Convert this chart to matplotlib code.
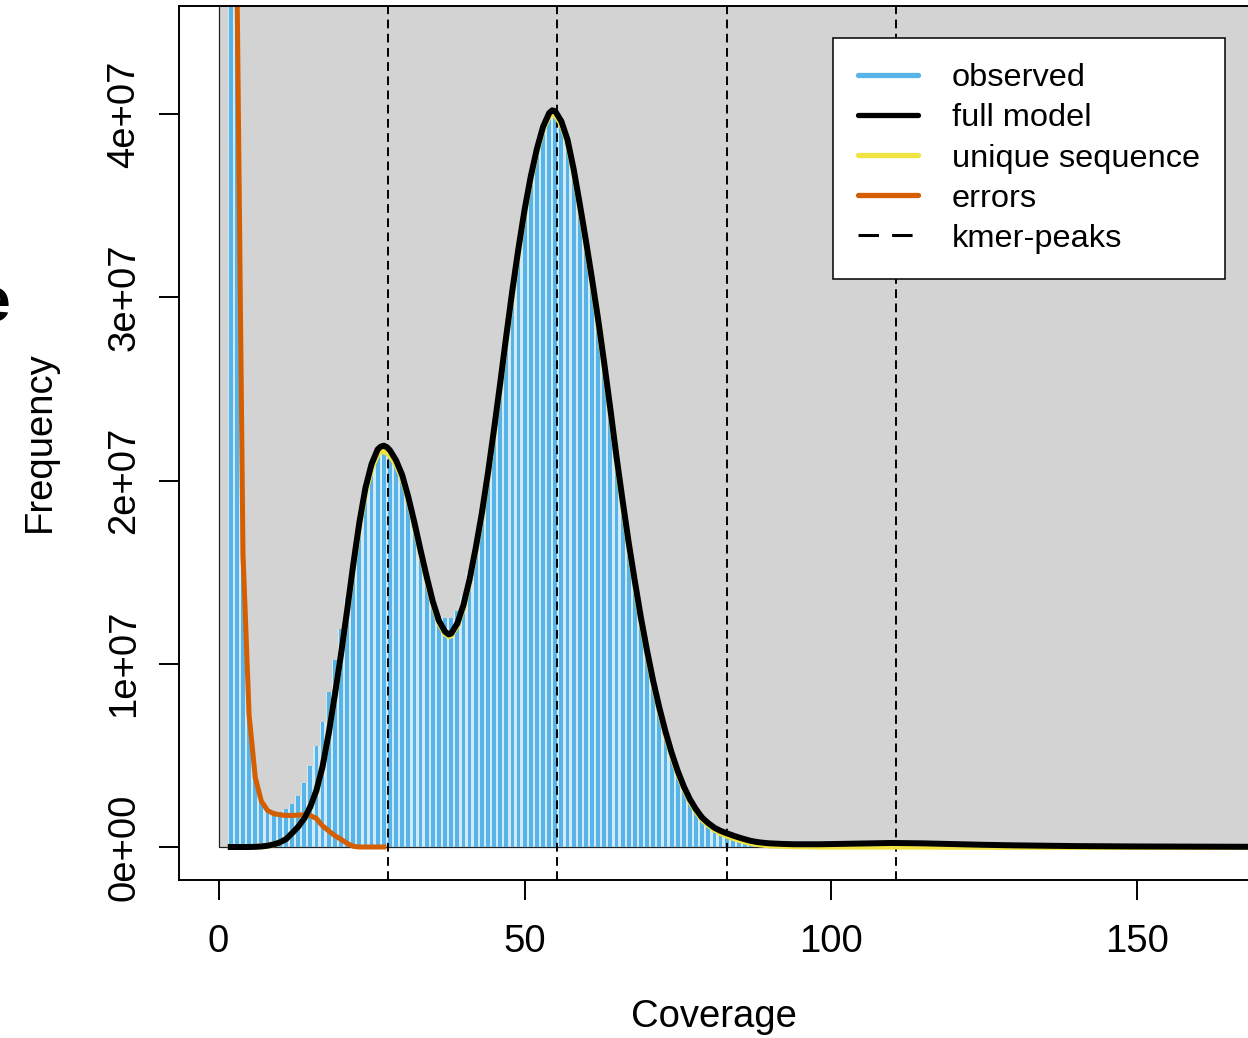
import matplotlib
matplotlib.use('Agg')
import matplotlib.pyplot as plt
from matplotlib.patches import Rectangle
from matplotlib.lines import Line2D

plt.rcParams['font.family'] = ['Liberation Sans', 'DejaVu Sans']

# ---------------- data (frequencies in millions) ----------------
obs_cov = list(range(2, 122))
obs_freq = [
    120, 48, 15.5, 7.3, 3.7, 2.6, 2.15, 1.95, 1.93, 2.05,
    2.33, 2.8, 3.47, 4.4, 5.5, 6.8, 8.45, 10.2, 11.9, 13.6,
    15.7, 17.7, 19.4, 20.7, 21.4, 21.6, 21.4, 20.8, 19.9, 18.7,
    17.4, 16.0, 14.6, 13.4, 12.6, 12.5, 12.5, 12.9, 13.7, 15.0,
    16.6, 18.3, 20.3, 22.7, 25.1, 27.7, 30.2, 32.5, 34.6, 36.4,
    37.9, 39.1, 39.8, 39.8, 39.3, 38.3, 36.7, 34.9, 32.9, 30.8,
    28.6, 26.2, 23.7, 21.1, 18.7, 16.4, 14.3, 12.3, 10.5, 8.9,
    7.4, 6.1, 5.0, 4.0, 3.15, 2.45, 1.9, 1.45, 1.12, 0.87,
    0.67, 0.52, 0.4, 0.3, 0.22, 0.17, 0.13, 0.1, 0.08, 0.07,
    0.07, 0.06, 0.06, 0.06, 0.06, 0.06, 0.06, 0.06, 0.06, 0.07,
    0.07, 0.07, 0.07, 0.08, 0.08, 0.08, 0.08, 0.08, 0.08, 0.08,
    0.08, 0.08, 0.07, 0.07, 0.07, 0.06, 0.06, 0.06, 0.05, 0.05,
]

model_cov = ([2, 3, 4, 5, 6, 7, 8, 9, 10, 11, 12, 13, 14, 15, 16, 17, 18, 19,
              20, 21, 22, 23, 24, 25, 26, 26.5, 27, 27.5, 28, 29, 30, 31, 32,
              33, 34, 35, 36, 37, 37.6, 38, 39, 40, 41, 42, 43, 44, 45, 46,
              47, 48, 49, 50, 51, 52, 53, 54, 54.5, 55, 56, 57, 58, 59, 60,
              61, 62, 63, 64, 65, 66, 67, 68, 69, 70, 71, 72, 73, 74, 75, 76,
              77, 78, 79, 80, 81, 82, 83, 84, 85, 86, 87, 88, 89, 90]
             + [92, 94, 96, 98, 100, 105, 110, 115, 120, 125, 130, 140, 150,
                160, 170])
full_model = [
    0.0, 0.0, 0.0, 0.0, 0.01, 0.03, 0.07, 0.14, 0.25, 0.42,
    0.75, 1.1, 1.55, 2.2, 3.1, 4.4, 6.2, 8.3, 10.5, 12.9,
    15.4, 17.7, 19.6, 20.9, 21.7, 21.85, 21.9, 21.82, 21.65, 21.1,
    20.3, 19.1, 17.7, 16.2, 14.75, 13.4, 12.35, 11.75, 11.6, 11.65,
    12.2, 13.2, 14.6, 16.3, 18.2, 20.4, 22.8, 25.3, 27.9, 30.4,
    32.7, 34.8, 36.6, 38.1, 39.3, 40.05, 40.2, 40.15, 39.6, 38.6,
    37.0, 35.1, 33.1, 31.0, 28.8, 26.4, 23.9, 21.3, 18.9, 16.6,
    14.5, 12.5, 10.7, 9.05, 7.6, 6.3, 5.15, 4.15, 3.3, 2.6,
    2.05, 1.6, 1.3, 1.05, 0.88, 0.75, 0.63, 0.52, 0.42, 0.33,
    0.27, 0.23, 0.2,
    0.17, 0.15, 0.15, 0.15, 0.16, 0.19, 0.22, 0.2, 0.16, 0.12, 0.09,
    0.05, 0.03, 0.02, 0.01,
]
unique_seq = [
    0.0, 0.0, 0.0, 0.0, 0.01, 0.03, 0.07, 0.14, 0.25, 0.42,
    0.75, 1.1, 1.55, 2.2, 3.1, 4.4, 6.2, 8.3, 10.5, 12.85,
    15.3, 17.55, 19.4, 20.7, 21.45, 21.58, 21.6, 21.52, 21.38, 20.9,
    20.15, 19.0, 17.6, 16.1, 14.65, 13.3, 12.25, 11.65, 11.5, 11.55,
    12.1, 13.1, 14.5, 16.2, 18.1, 20.3, 22.7, 25.2, 27.8, 30.3,
    32.6, 34.7, 36.5, 38.0, 39.2, 39.9, 40.0, 39.95, 39.45, 38.5,
    36.9, 35.0, 33.0, 30.9, 28.7, 26.3, 23.8, 21.2, 18.8, 16.5,
    14.4, 12.4, 10.6, 8.95, 7.5, 6.2, 5.05, 4.05, 3.2, 2.5,
    1.95, 1.5, 1.2, 0.95, 0.76, 0.62, 0.5, 0.39, 0.3, 0.22,
    0.16, 0.12, 0.09,
    0.06, 0.04, 0.03, 0.02, 0.02, 0.02, 0.02, 0.02, 0.01, 0.01, 0.0,
    0.0, 0.0, 0.0, 0.0,
]

err_cov = list(range(2, 28))
errors = [
    140, 48, 16, 7.2, 3.8, 2.5, 2.0, 1.82, 1.76, 1.72,
    1.72, 1.74, 1.76, 1.72, 1.55, 1.15, 0.88, 0.62, 0.42, 0.2,
    0.04, 0.0, 0.0, 0.0, 0.0, 0.0,
]

kmer_peaks = [27.67, 55.33, 83.0, 110.67]

y_ticks = [0, 1e7, 2e7, 3e7, 4e7]
y_tick_labels = ['0e+00', '1e+07', '2e+07', '3e+07', '4e+07']
x_ticks = [0, 50, 100, 150]
x_tick_labels = ['0', '50', '100', '150']

legend_labels = ['observed', 'full model', 'unique sequence', 'errors', 'kmer-peaks']

# ---------------- styling ----------------
C_HIST = '#56B4E9'
C_GAP = '#d2e9f7'
C_BG = '#D3D3D3'
C_ERR = '#D55E00'
C_UNIQ = '#F0E442'

W, H = 1248, 1038
fig = plt.figure(figsize=(W / 100, H / 100), dpi=100)
ax_l, ax_r, ax_t, ax_b = 179, 1260, 6, 880
ax = fig.add_axes([ax_l / W, 1 - ax_b / H, (ax_r - ax_l) / W, (ax_b - ax_t) / H])

px_per_x = 6.123
x0_px = 218.5
px_per_y = 18.325 / 1e6
y0_px = 847
ax.set_xlim((ax_l - x0_px) / px_per_x, (ax_r - x0_px) / px_per_x)
ax.set_ylim((y0_px - ax_b) / px_per_y, (y0_px - ax_t) / px_per_y)

M = 1e6
obs_y = [v * M for v in obs_freq]
mod_y = [v * M for v in full_model]
uni_y = [v * M for v in unique_seq]
err_y = [v * M for v in errors]

ax.add_patch(Rectangle((0, 0), 400, 2e8, facecolor=C_BG, edgecolor='none', zorder=0))
ax.bar(obs_cov, obs_y, width=1.0, color=C_GAP, linewidth=0, zorder=1)
ax.add_patch(Rectangle((0, 0), 400, 2e8, fill=False, edgecolor='#222222', lw=0.9, zorder=1.5))
ax.bar(obs_cov, obs_y, width=0.62, color=C_HIST, linewidth=0, zorder=2)

for p in kmer_peaks:
    ax.axvline(p, color='black', lw=1.4, linestyle=(0, (4.5, 2.8)), zorder=3)

ax.plot(err_cov, err_y, color=C_ERR, lw=3.6, zorder=4, solid_joinstyle='round')
ax.plot(model_cov, uni_y, color=C_UNIQ, lw=4.3, zorder=5, solid_joinstyle='round')
ax.plot(model_cov, mod_y, color='black', lw=4.3, zorder=6, solid_joinstyle='round')

for s in ['top', 'left', 'bottom', 'right']:
    ax.spines[s].set_linewidth(1.4)
    ax.spines[s].set_zorder(10)

FS = 27.5
ax.set_xticks(x_ticks)
ax.set_xticklabels(x_tick_labels, fontsize=FS)
ax.set_yticks(y_ticks)
ax.set_yticklabels(y_tick_labels, fontsize=FS, rotation=90, va='center')
ax.tick_params(axis='both', length=14.4, width=1.4)
ax.tick_params(axis='x', pad=17)
ax.tick_params(axis='y', pad=12)

fig.text(714 / W, 1 - 1027 / H, 'Coverage', fontsize=FS, ha='center', va='baseline')
fig.text(50 / W, 1 - 442 / H, 'Frequency', fontsize=FS, rotation=90,
         rotation_mode='anchor', ha='center', va='baseline')
fig.text(10 / W, 1 - 322 / H, 'e', fontsize=45, fontweight='bold', ha='right', va='baseline')

handles = [
    Line2D([], [], color=C_HIST, lw=3.8, solid_capstyle='round'),
    Line2D([], [], color='black', lw=3.8, solid_capstyle='round'),
    Line2D([], [], color=C_UNIQ, lw=3.8, solid_capstyle='round'),
    Line2D([], [], color=C_ERR, lw=3.8, solid_capstyle='round'),
    Line2D([], [], color='black', lw=2.2, linestyle=(0, (6.7, 4.3))),
]
leg = ax.legend(handles, legend_labels, loc='upper left',
                bbox_to_anchor=(833 / W, 1 - 38 / H), bbox_transform=fig.transFigure,
                fontsize=23.4, frameon=True, fancybox=False, shadow=False,
                framealpha=1, edgecolor='black', borderpad=0.78,
                labelspacing=0.31, handlelength=1.83, handletextpad=1.05,
                borderaxespad=0)
leg.get_frame().set_linewidth(1.1)
leg.set_zorder(20)

fig.savefig('out.png', dpi=100)
